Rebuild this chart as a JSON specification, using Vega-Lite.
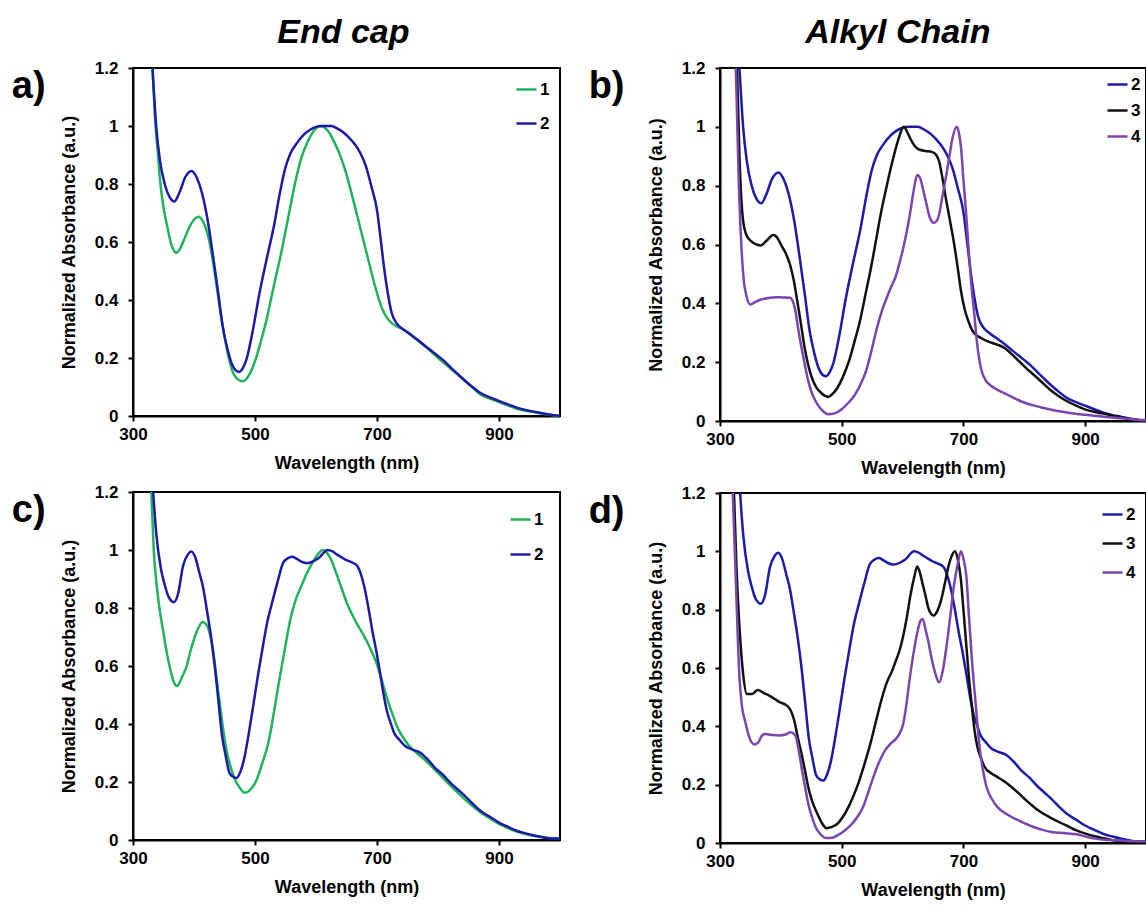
{
  "$schema": "https://vega.github.io/schema/vega-lite/v6.json",
  "background": "white",
  "padding": {"left": 10, "top": 16, "right": 0, "bottom": 0},
  "config": {
    "font": "Liberation Sans",
    "view": {"stroke": "black", "strokeWidth": 2},
    "axis": {"domainColor": "black", "domainWidth": 2, "tickColor": "black", "tickWidth": 2, "tickSize": 5, "labelFont": "Liberation Sans", "labelFontSize": 17, "labelFontWeight": "bold", "labelColor": "black", "titleFont": "Liberation Sans", "titleFontSize": 18, "titleFontWeight": "bold", "titleColor": "black", "grid": false},
    "axisX": {"labelPadding": 5, "titlePadding": 12, "labelFlush": false},
    "axisY": {"labelPadding": 10, "titlePadding": 16},
    "legend": {"title": null, "orient": "top-right", "symbolType": "stroke", "symbolStrokeWidth": 2.5, "symbolSize": 400, "labelFont": "Liberation Sans", "labelFontSize": 17, "labelFontWeight": "bold", "labelColor": "black", "labelOffset": 2, "padding": 0},
    "line": {"strokeWidth": 2.5, "interpolate": "monotone", "clip": true}
  },
  "datasets": {
    "a": [
      {"s":"1","nm":332,"v":1.2},{"s":"1","nm":337,"v":1.0},{"s":"1","nm":341,"v":0.9},{"s":"1","nm":344,"v":0.82},{"s":"1","nm":350,"v":0.72},{"s":"1","nm":356,"v":0.655},{"s":"1","nm":363,"v":0.59},{"s":"1","nm":371,"v":0.563},{"s":"1","nm":378,"v":0.58},{"s":"1","nm":386,"v":0.62},{"s":"1","nm":396,"v":0.665},{"s":"1","nm":407,"v":0.687},{"s":"1","nm":415,"v":0.67},{"s":"1","nm":422,"v":0.63},{"s":"1","nm":429,"v":0.56},{"s":"1","nm":435,"v":0.48},{"s":"1","nm":441,"v":0.39},{"s":"1","nm":447,"v":0.31},{"s":"1","nm":455,"v":0.22},{"s":"1","nm":462,"v":0.16},{"s":"1","nm":470,"v":0.13},{"s":"1","nm":480,"v":0.12},{"s":"1","nm":490,"v":0.14},{"s":"1","nm":501,"v":0.195},{"s":"1","nm":510,"v":0.26},{"s":"1","nm":519,"v":0.333},{"s":"1","nm":531,"v":0.45},{"s":"1","nm":543,"v":0.563},{"s":"1","nm":555,"v":0.69},{"s":"1","nm":567,"v":0.815},{"s":"1","nm":576,"v":0.89},{"s":"1","nm":585,"v":0.94},{"s":"1","nm":596,"v":0.982},{"s":"1","nm":607,"v":1.0},{"s":"1","nm":614,"v":0.995},{"s":"1","nm":622,"v":0.976},{"s":"1","nm":631,"v":0.94},{"s":"1","nm":640,"v":0.896},{"s":"1","nm":649,"v":0.84},{"s":"1","nm":658,"v":0.77},{"s":"1","nm":667,"v":0.695},{"s":"1","nm":676,"v":0.62},{"s":"1","nm":685,"v":0.545},{"s":"1","nm":694,"v":0.47},{"s":"1","nm":702,"v":0.41},{"s":"1","nm":709,"v":0.367},{"s":"1","nm":716,"v":0.34},{"s":"1","nm":724,"v":0.32},{"s":"1","nm":733,"v":0.308},{"s":"1","nm":742,"v":0.3},{"s":"1","nm":750,"v":0.29},{"s":"1","nm":764,"v":0.265},{"s":"1","nm":779,"v":0.24},{"s":"1","nm":794,"v":0.212},{"s":"1","nm":809,"v":0.184},{"s":"1","nm":824,"v":0.158},{"s":"1","nm":839,"v":0.132},{"s":"1","nm":854,"v":0.104},{"s":"1","nm":869,"v":0.075},{"s":"1","nm":885,"v":0.06},{"s":"1","nm":900,"v":0.048},{"s":"1","nm":915,"v":0.036},{"s":"1","nm":929,"v":0.025},{"s":"1","nm":945,"v":0.018},{"s":"1","nm":960,"v":0.012},{"s":"1","nm":980,"v":0.005},{"s":"1","nm":1000,"v":0.0},
      {"s":"2","nm":332,"v":1.2},{"s":"2","nm":338,"v":1.0},{"s":"2","nm":344,"v":0.884},{"s":"2","nm":352,"v":0.8},{"s":"2","nm":360,"v":0.755},{"s":"2","nm":368,"v":0.74},{"s":"2","nm":376,"v":0.77},{"s":"2","nm":386,"v":0.825},{"s":"2","nm":396,"v":0.845},{"s":"2","nm":405,"v":0.82},{"s":"2","nm":413,"v":0.77},{"s":"2","nm":422,"v":0.68},{"s":"2","nm":432,"v":0.54},{"s":"2","nm":440,"v":0.42},{"s":"2","nm":447,"v":0.31},{"s":"2","nm":455,"v":0.23},{"s":"2","nm":462,"v":0.18},{"s":"2","nm":468,"v":0.158},{"s":"2","nm":474,"v":0.152},{"s":"2","nm":480,"v":0.165},{"s":"2","nm":486,"v":0.195},{"s":"2","nm":496,"v":0.29},{"s":"2","nm":507,"v":0.42},{"s":"2","nm":519,"v":0.54},{"s":"2","nm":531,"v":0.655},{"s":"2","nm":540,"v":0.76},{"s":"2","nm":549,"v":0.85},{"s":"2","nm":558,"v":0.905},{"s":"2","nm":567,"v":0.936},{"s":"2","nm":580,"v":0.97},{"s":"2","nm":591,"v":0.988},{"s":"2","nm":600,"v":0.997},{"s":"2","nm":610,"v":1.0},{"s":"2","nm":625,"v":1.0},{"s":"2","nm":636,"v":0.99},{"s":"2","nm":646,"v":0.976},{"s":"2","nm":655,"v":0.958},{"s":"2","nm":664,"v":0.936},{"s":"2","nm":673,"v":0.905},{"s":"2","nm":682,"v":0.86},{"s":"2","nm":691,"v":0.79},{"s":"2","nm":700,"v":0.71},{"s":"2","nm":706,"v":0.61},{"s":"2","nm":712,"v":0.505},{"s":"2","nm":718,"v":0.42},{"s":"2","nm":724,"v":0.356},{"s":"2","nm":732,"v":0.32},{"s":"2","nm":742,"v":0.3},{"s":"2","nm":754,"v":0.282},{"s":"2","nm":766,"v":0.264},{"s":"2","nm":780,"v":0.24},{"s":"2","nm":797,"v":0.212},{"s":"2","nm":810,"v":0.19},{"s":"2","nm":821,"v":0.167},{"s":"2","nm":833,"v":0.143},{"s":"2","nm":845,"v":0.12},{"s":"2","nm":857,"v":0.099},{"s":"2","nm":869,"v":0.08},{"s":"2","nm":885,"v":0.064},{"s":"2","nm":900,"v":0.052},{"s":"2","nm":915,"v":0.04},{"s":"2","nm":929,"v":0.029},{"s":"2","nm":945,"v":0.02},{"s":"2","nm":960,"v":0.014},{"s":"2","nm":975,"v":0.008},{"s":"2","nm":990,"v":0.003},{"s":"2","nm":1000,"v":0.0}
    ],
    "b": [
      {"s":"2","nm":332,"v":1.2},{"s":"2","nm":338,"v":1.0},{"s":"2","nm":344,"v":0.884},{"s":"2","nm":352,"v":0.8},{"s":"2","nm":360,"v":0.755},{"s":"2","nm":368,"v":0.74},{"s":"2","nm":376,"v":0.77},{"s":"2","nm":386,"v":0.825},{"s":"2","nm":396,"v":0.845},{"s":"2","nm":405,"v":0.82},{"s":"2","nm":413,"v":0.77},{"s":"2","nm":422,"v":0.68},{"s":"2","nm":432,"v":0.54},{"s":"2","nm":440,"v":0.42},{"s":"2","nm":447,"v":0.31},{"s":"2","nm":455,"v":0.23},{"s":"2","nm":462,"v":0.18},{"s":"2","nm":468,"v":0.158},{"s":"2","nm":474,"v":0.152},{"s":"2","nm":480,"v":0.165},{"s":"2","nm":486,"v":0.195},{"s":"2","nm":496,"v":0.29},{"s":"2","nm":507,"v":0.42},{"s":"2","nm":519,"v":0.54},{"s":"2","nm":531,"v":0.655},{"s":"2","nm":540,"v":0.76},{"s":"2","nm":549,"v":0.85},{"s":"2","nm":558,"v":0.905},{"s":"2","nm":567,"v":0.936},{"s":"2","nm":580,"v":0.97},{"s":"2","nm":591,"v":0.988},{"s":"2","nm":600,"v":0.997},{"s":"2","nm":610,"v":1.0},{"s":"2","nm":625,"v":1.0},{"s":"2","nm":636,"v":0.99},{"s":"2","nm":646,"v":0.976},{"s":"2","nm":655,"v":0.958},{"s":"2","nm":664,"v":0.936},{"s":"2","nm":673,"v":0.905},{"s":"2","nm":682,"v":0.86},{"s":"2","nm":691,"v":0.79},{"s":"2","nm":700,"v":0.71},{"s":"2","nm":706,"v":0.61},{"s":"2","nm":712,"v":0.505},{"s":"2","nm":718,"v":0.42},{"s":"2","nm":724,"v":0.356},{"s":"2","nm":732,"v":0.32},{"s":"2","nm":742,"v":0.3},{"s":"2","nm":754,"v":0.282},{"s":"2","nm":766,"v":0.264},{"s":"2","nm":780,"v":0.24},{"s":"2","nm":797,"v":0.212},{"s":"2","nm":810,"v":0.19},{"s":"2","nm":821,"v":0.167},{"s":"2","nm":833,"v":0.143},{"s":"2","nm":845,"v":0.12},{"s":"2","nm":857,"v":0.099},{"s":"2","nm":869,"v":0.08},{"s":"2","nm":885,"v":0.064},{"s":"2","nm":900,"v":0.052},{"s":"2","nm":915,"v":0.04},{"s":"2","nm":929,"v":0.029},{"s":"2","nm":945,"v":0.02},{"s":"2","nm":960,"v":0.014},{"s":"2","nm":975,"v":0.008},{"s":"2","nm":990,"v":0.003},{"s":"2","nm":1000,"v":0.0},
      {"s":"3","nm":328,"v":1.2},{"s":"3","nm":332,"v":0.9},{"s":"3","nm":337,"v":0.7},{"s":"3","nm":343,"v":0.634},{"s":"3","nm":352,"v":0.61},{"s":"3","nm":360,"v":0.6},{"s":"3","nm":367,"v":0.597},{"s":"3","nm":375,"v":0.61},{"s":"3","nm":388,"v":0.632},{"s":"3","nm":395,"v":0.62},{"s":"3","nm":400,"v":0.6},{"s":"3","nm":408,"v":0.57},{"s":"3","nm":415,"v":0.532},{"s":"3","nm":421,"v":0.48},{"s":"3","nm":427,"v":0.408},{"s":"3","nm":433,"v":0.33},{"s":"3","nm":439,"v":0.25},{"s":"3","nm":445,"v":0.19},{"s":"3","nm":451,"v":0.147},{"s":"3","nm":458,"v":0.115},{"s":"3","nm":466,"v":0.096},{"s":"3","nm":472,"v":0.086},{"s":"3","nm":478,"v":0.082},{"s":"3","nm":485,"v":0.092},{"s":"3","nm":493,"v":0.113},{"s":"3","nm":502,"v":0.15},{"s":"3","nm":512,"v":0.204},{"s":"3","nm":521,"v":0.27},{"s":"3","nm":530,"v":0.34},{"s":"3","nm":539,"v":0.43},{"s":"3","nm":548,"v":0.52},{"s":"3","nm":556,"v":0.61},{"s":"3","nm":564,"v":0.702},{"s":"3","nm":573,"v":0.79},{"s":"3","nm":582,"v":0.872},{"s":"3","nm":588,"v":0.92},{"s":"3","nm":594,"v":0.963},{"s":"3","nm":602,"v":1.0},{"s":"3","nm":607,"v":0.985},{"s":"3","nm":612,"v":0.963},{"s":"3","nm":620,"v":0.935},{"s":"3","nm":627,"v":0.923},{"s":"3","nm":638,"v":0.918},{"s":"3","nm":648,"v":0.915},{"s":"3","nm":655,"v":0.905},{"s":"3","nm":660,"v":0.883},{"s":"3","nm":666,"v":0.82},{"s":"3","nm":672,"v":0.747},{"s":"3","nm":678,"v":0.68},{"s":"3","nm":684,"v":0.611},{"s":"3","nm":690,"v":0.53},{"s":"3","nm":696,"v":0.442},{"s":"3","nm":702,"v":0.38},{"s":"3","nm":708,"v":0.34},{"s":"3","nm":714,"v":0.31},{"s":"3","nm":720,"v":0.294},{"s":"3","nm":729,"v":0.282},{"s":"3","nm":738,"v":0.272},{"s":"3","nm":752,"v":0.262},{"s":"3","nm":767,"v":0.249},{"s":"3","nm":779,"v":0.228},{"s":"3","nm":791,"v":0.204},{"s":"3","nm":803,"v":0.18},{"s":"3","nm":815,"v":0.158},{"s":"3","nm":830,"v":0.13},{"s":"3","nm":845,"v":0.102},{"s":"3","nm":860,"v":0.08},{"s":"3","nm":875,"v":0.062},{"s":"3","nm":890,"v":0.048},{"s":"3","nm":905,"v":0.036},{"s":"3","nm":920,"v":0.029},{"s":"3","nm":935,"v":0.023},{"s":"3","nm":950,"v":0.016},{"s":"3","nm":965,"v":0.009},{"s":"3","nm":980,"v":0.005},{"s":"3","nm":1000,"v":0.0},
      {"s":"4","nm":326,"v":1.2},{"s":"4","nm":331,"v":0.8},{"s":"4","nm":335,"v":0.6},{"s":"4","nm":339,"v":0.48},{"s":"4","nm":343,"v":0.43},{"s":"4","nm":350,"v":0.396},{"s":"4","nm":358,"v":0.405},{"s":"4","nm":367,"v":0.413},{"s":"4","nm":380,"v":0.418},{"s":"4","nm":391,"v":0.421},{"s":"4","nm":403,"v":0.42},{"s":"4","nm":415,"v":0.419},{"s":"4","nm":420,"v":0.405},{"s":"4","nm":424,"v":0.374},{"s":"4","nm":428,"v":0.32},{"s":"4","nm":433,"v":0.26},{"s":"4","nm":439,"v":0.195},{"s":"4","nm":445,"v":0.136},{"s":"4","nm":451,"v":0.095},{"s":"4","nm":457,"v":0.068},{"s":"4","nm":463,"v":0.048},{"s":"4","nm":469,"v":0.034},{"s":"4","nm":478,"v":0.023},{"s":"4","nm":488,"v":0.026},{"s":"4","nm":500,"v":0.04},{"s":"4","nm":511,"v":0.062},{"s":"4","nm":522,"v":0.09},{"s":"4","nm":531,"v":0.125},{"s":"4","nm":540,"v":0.17},{"s":"4","nm":549,"v":0.24},{"s":"4","nm":558,"v":0.317},{"s":"4","nm":567,"v":0.38},{"s":"4","nm":576,"v":0.43},{"s":"4","nm":582,"v":0.46},{"s":"4","nm":588,"v":0.487},{"s":"4","nm":594,"v":0.53},{"s":"4","nm":600,"v":0.578},{"s":"4","nm":606,"v":0.635},{"s":"4","nm":612,"v":0.702},{"s":"4","nm":618,"v":0.78},{"s":"4","nm":624,"v":0.836},{"s":"4","nm":629,"v":0.825},{"s":"4","nm":633,"v":0.793},{"s":"4","nm":639,"v":0.74},{"s":"4","nm":645,"v":0.69},{"s":"4","nm":651,"v":0.674},{"s":"4","nm":656,"v":0.68},{"s":"4","nm":660,"v":0.702},{"s":"4","nm":666,"v":0.77},{"s":"4","nm":672,"v":0.838},{"s":"4","nm":677,"v":0.9},{"s":"4","nm":681,"v":0.951},{"s":"4","nm":689,"v":1.0},{"s":"4","nm":693,"v":0.975},{"s":"4","nm":696,"v":0.93},{"s":"4","nm":700,"v":0.82},{"s":"4","nm":705,"v":0.69},{"s":"4","nm":709,"v":0.57},{"s":"4","nm":713,"v":0.464},{"s":"4","nm":718,"v":0.36},{"s":"4","nm":722,"v":0.272},{"s":"4","nm":726,"v":0.21},{"s":"4","nm":730,"v":0.17},{"s":"4","nm":736,"v":0.14},{"s":"4","nm":742,"v":0.125},{"s":"4","nm":757,"v":0.105},{"s":"4","nm":772,"v":0.09},{"s":"4","nm":786,"v":0.075},{"s":"4","nm":801,"v":0.062},{"s":"4","nm":815,"v":0.053},{"s":"4","nm":830,"v":0.045},{"s":"4","nm":845,"v":0.038},{"s":"4","nm":860,"v":0.032},{"s":"4","nm":875,"v":0.027},{"s":"4","nm":891,"v":0.023},{"s":"4","nm":905,"v":0.02},{"s":"4","nm":920,"v":0.017},{"s":"4","nm":935,"v":0.014},{"s":"4","nm":950,"v":0.011},{"s":"4","nm":975,"v":0.006},{"s":"4","nm":1000,"v":0.003}
    ],
    "c": [
      {"s":"1","nm":330,"v":1.2},{"s":"1","nm":334,"v":1.0},{"s":"1","nm":339,"v":0.876},{"s":"1","nm":344,"v":0.79},{"s":"1","nm":349,"v":0.726},{"s":"1","nm":355,"v":0.65},{"s":"1","nm":361,"v":0.589},{"s":"1","nm":366,"v":0.55},{"s":"1","nm":372,"v":0.531},{"s":"1","nm":380,"v":0.56},{"s":"1","nm":388,"v":0.6},{"s":"1","nm":394,"v":0.65},{"s":"1","nm":400,"v":0.692},{"s":"1","nm":407,"v":0.73},{"s":"1","nm":414,"v":0.752},{"s":"1","nm":421,"v":0.74},{"s":"1","nm":428,"v":0.692},{"s":"1","nm":434,"v":0.61},{"s":"1","nm":440,"v":0.508},{"s":"1","nm":446,"v":0.41},{"s":"1","nm":452,"v":0.324},{"s":"1","nm":459,"v":0.26},{"s":"1","nm":467,"v":0.209},{"s":"1","nm":475,"v":0.18},{"s":"1","nm":483,"v":0.163},{"s":"1","nm":493,"v":0.175},{"s":"1","nm":503,"v":0.209},{"s":"1","nm":512,"v":0.265},{"s":"1","nm":522,"v":0.336},{"s":"1","nm":531,"v":0.44},{"s":"1","nm":540,"v":0.554},{"s":"1","nm":549,"v":0.66},{"s":"1","nm":558,"v":0.761},{"s":"1","nm":567,"v":0.83},{"s":"1","nm":576,"v":0.876},{"s":"1","nm":585,"v":0.92},{"s":"1","nm":594,"v":0.956},{"s":"1","nm":603,"v":0.985},{"s":"1","nm":611,"v":1.0},{"s":"1","nm":618,"v":0.99},{"s":"1","nm":625,"v":0.966},{"s":"1","nm":634,"v":0.915},{"s":"1","nm":643,"v":0.862},{"s":"1","nm":652,"v":0.81},{"s":"1","nm":661,"v":0.77},{"s":"1","nm":670,"v":0.735},{"s":"1","nm":679,"v":0.703},{"s":"1","nm":689,"v":0.66},{"s":"1","nm":699,"v":0.611},{"s":"1","nm":708,"v":0.55},{"s":"1","nm":717,"v":0.485},{"s":"1","nm":726,"v":0.43},{"s":"1","nm":735,"v":0.382},{"s":"1","nm":744,"v":0.35},{"s":"1","nm":753,"v":0.324},{"s":"1","nm":768,"v":0.295},{"s":"1","nm":783,"v":0.267},{"s":"1","nm":798,"v":0.235},{"s":"1","nm":813,"v":0.203},{"s":"1","nm":828,"v":0.172},{"s":"1","nm":844,"v":0.14},{"s":"1","nm":859,"v":0.113},{"s":"1","nm":874,"v":0.089},{"s":"1","nm":890,"v":0.068},{"s":"1","nm":905,"v":0.05},{"s":"1","nm":920,"v":0.036},{"s":"1","nm":936,"v":0.025},{"s":"1","nm":951,"v":0.017},{"s":"1","nm":966,"v":0.011},{"s":"1","nm":983,"v":0.007},{"s":"1","nm":1000,"v":0.005},
      {"s":"2","nm":333,"v":1.2},{"s":"2","nm":338,"v":1.06},{"s":"2","nm":346,"v":0.933},{"s":"2","nm":352,"v":0.88},{"s":"2","nm":358,"v":0.84},{"s":"2","nm":367,"v":0.82},{"s":"2","nm":374,"v":0.85},{"s":"2","nm":382,"v":0.945},{"s":"2","nm":390,"v":0.985},{"s":"2","nm":396,"v":0.995},{"s":"2","nm":402,"v":0.975},{"s":"2","nm":409,"v":0.92},{"s":"2","nm":415,"v":0.87},{"s":"2","nm":421,"v":0.794},{"s":"2","nm":428,"v":0.7},{"s":"2","nm":434,"v":0.6},{"s":"2","nm":440,"v":0.48},{"s":"2","nm":446,"v":0.359},{"s":"2","nm":452,"v":0.29},{"s":"2","nm":458,"v":0.232},{"s":"2","nm":464,"v":0.218},{"s":"2","nm":470,"v":0.214},{"s":"2","nm":476,"v":0.235},{"s":"2","nm":482,"v":0.278},{"s":"2","nm":490,"v":0.37},{"s":"2","nm":497,"v":0.462},{"s":"2","nm":505,"v":0.57},{"s":"2","nm":513,"v":0.669},{"s":"2","nm":520,"v":0.75},{"s":"2","nm":528,"v":0.818},{"s":"2","nm":537,"v":0.89},{"s":"2","nm":546,"v":0.955},{"s":"2","nm":554,"v":0.972},{"s":"2","nm":561,"v":0.977},{"s":"2","nm":568,"v":0.97},{"s":"2","nm":576,"v":0.96},{"s":"2","nm":584,"v":0.955},{"s":"2","nm":591,"v":0.957},{"s":"2","nm":599,"v":0.965},{"s":"2","nm":607,"v":0.977},{"s":"2","nm":613,"v":0.992},{"s":"2","nm":619,"v":1.0},{"s":"2","nm":627,"v":0.995},{"s":"2","nm":634,"v":0.985},{"s":"2","nm":642,"v":0.975},{"s":"2","nm":649,"v":0.966},{"s":"2","nm":658,"v":0.958},{"s":"2","nm":667,"v":0.947},{"s":"2","nm":673,"v":0.92},{"s":"2","nm":679,"v":0.875},{"s":"2","nm":686,"v":0.8},{"s":"2","nm":692,"v":0.726},{"s":"2","nm":699,"v":0.65},{"s":"2","nm":705,"v":0.577},{"s":"2","nm":711,"v":0.5},{"s":"2","nm":717,"v":0.439},{"s":"2","nm":723,"v":0.4},{"s":"2","nm":728,"v":0.37},{"s":"2","nm":737,"v":0.345},{"s":"2","nm":746,"v":0.324},{"s":"2","nm":758,"v":0.312},{"s":"2","nm":771,"v":0.301},{"s":"2","nm":783,"v":0.278},{"s":"2","nm":795,"v":0.249},{"s":"2","nm":808,"v":0.225},{"s":"2","nm":820,"v":0.198},{"s":"2","nm":832,"v":0.175},{"s":"2","nm":844,"v":0.152},{"s":"2","nm":857,"v":0.125},{"s":"2","nm":870,"v":0.1},{"s":"2","nm":885,"v":0.08},{"s":"2","nm":900,"v":0.06},{"s":"2","nm":915,"v":0.045},{"s":"2","nm":930,"v":0.031},{"s":"2","nm":945,"v":0.022},{"s":"2","nm":961,"v":0.014},{"s":"2","nm":975,"v":0.008},{"s":"2","nm":985,"v":0.005},{"s":"2","nm":1000,"v":0.005}
    ],
    "d": [
      {"s":"2","nm":333,"v":1.2},{"s":"2","nm":338,"v":1.06},{"s":"2","nm":346,"v":0.933},{"s":"2","nm":352,"v":0.88},{"s":"2","nm":358,"v":0.84},{"s":"2","nm":367,"v":0.82},{"s":"2","nm":374,"v":0.85},{"s":"2","nm":382,"v":0.945},{"s":"2","nm":390,"v":0.985},{"s":"2","nm":396,"v":0.995},{"s":"2","nm":402,"v":0.975},{"s":"2","nm":409,"v":0.92},{"s":"2","nm":415,"v":0.87},{"s":"2","nm":421,"v":0.794},{"s":"2","nm":428,"v":0.7},{"s":"2","nm":434,"v":0.6},{"s":"2","nm":440,"v":0.48},{"s":"2","nm":446,"v":0.359},{"s":"2","nm":452,"v":0.29},{"s":"2","nm":458,"v":0.232},{"s":"2","nm":464,"v":0.218},{"s":"2","nm":470,"v":0.214},{"s":"2","nm":476,"v":0.235},{"s":"2","nm":482,"v":0.278},{"s":"2","nm":490,"v":0.37},{"s":"2","nm":497,"v":0.462},{"s":"2","nm":505,"v":0.57},{"s":"2","nm":513,"v":0.669},{"s":"2","nm":520,"v":0.75},{"s":"2","nm":528,"v":0.818},{"s":"2","nm":537,"v":0.89},{"s":"2","nm":546,"v":0.955},{"s":"2","nm":554,"v":0.972},{"s":"2","nm":561,"v":0.977},{"s":"2","nm":568,"v":0.97},{"s":"2","nm":576,"v":0.96},{"s":"2","nm":584,"v":0.955},{"s":"2","nm":591,"v":0.957},{"s":"2","nm":599,"v":0.965},{"s":"2","nm":607,"v":0.977},{"s":"2","nm":613,"v":0.992},{"s":"2","nm":619,"v":1.0},{"s":"2","nm":627,"v":0.995},{"s":"2","nm":634,"v":0.985},{"s":"2","nm":642,"v":0.975},{"s":"2","nm":649,"v":0.966},{"s":"2","nm":658,"v":0.958},{"s":"2","nm":667,"v":0.947},{"s":"2","nm":673,"v":0.92},{"s":"2","nm":679,"v":0.875},{"s":"2","nm":686,"v":0.8},{"s":"2","nm":692,"v":0.726},{"s":"2","nm":699,"v":0.65},{"s":"2","nm":705,"v":0.577},{"s":"2","nm":711,"v":0.5},{"s":"2","nm":717,"v":0.439},{"s":"2","nm":723,"v":0.4},{"s":"2","nm":728,"v":0.37},{"s":"2","nm":737,"v":0.345},{"s":"2","nm":746,"v":0.324},{"s":"2","nm":758,"v":0.312},{"s":"2","nm":771,"v":0.301},{"s":"2","nm":783,"v":0.278},{"s":"2","nm":795,"v":0.249},{"s":"2","nm":808,"v":0.225},{"s":"2","nm":820,"v":0.198},{"s":"2","nm":832,"v":0.175},{"s":"2","nm":844,"v":0.152},{"s":"2","nm":857,"v":0.125},{"s":"2","nm":870,"v":0.1},{"s":"2","nm":885,"v":0.08},{"s":"2","nm":900,"v":0.06},{"s":"2","nm":915,"v":0.045},{"s":"2","nm":930,"v":0.031},{"s":"2","nm":945,"v":0.022},{"s":"2","nm":961,"v":0.014},{"s":"2","nm":975,"v":0.008},{"s":"2","nm":985,"v":0.005},{"s":"2","nm":1000,"v":0.005},
      {"s":"3","nm":323,"v":1.2},{"s":"3","nm":327,"v":0.95},{"s":"3","nm":332,"v":0.74},{"s":"3","nm":338,"v":0.58},{"s":"3","nm":344,"v":0.511},{"s":"3","nm":353,"v":0.511},{"s":"3","nm":362,"v":0.525},{"s":"3","nm":371,"v":0.515},{"s":"3","nm":380,"v":0.506},{"s":"3","nm":389,"v":0.495},{"s":"3","nm":398,"v":0.483},{"s":"3","nm":410,"v":0.471},{"s":"3","nm":416,"v":0.455},{"s":"3","nm":422,"v":0.42},{"s":"3","nm":428,"v":0.36},{"s":"3","nm":434,"v":0.306},{"s":"3","nm":440,"v":0.245},{"s":"3","nm":445,"v":0.192},{"s":"3","nm":452,"v":0.14},{"s":"3","nm":460,"v":0.1},{"s":"3","nm":467,"v":0.07},{"s":"3","nm":475,"v":0.051},{"s":"3","nm":484,"v":0.055},{"s":"3","nm":493,"v":0.066},{"s":"3","nm":502,"v":0.09},{"s":"3","nm":511,"v":0.123},{"s":"3","nm":520,"v":0.165},{"s":"3","nm":529,"v":0.215},{"s":"3","nm":538,"v":0.275},{"s":"3","nm":547,"v":0.34},{"s":"3","nm":556,"v":0.415},{"s":"3","nm":565,"v":0.489},{"s":"3","nm":574,"v":0.55},{"s":"3","nm":583,"v":0.591},{"s":"3","nm":589,"v":0.625},{"s":"3","nm":595,"v":0.66},{"s":"3","nm":601,"v":0.71},{"s":"3","nm":607,"v":0.774},{"s":"3","nm":613,"v":0.85},{"s":"3","nm":619,"v":0.91},{"s":"3","nm":624,"v":0.948},{"s":"3","nm":628,"v":0.93},{"s":"3","nm":633,"v":0.888},{"s":"3","nm":638,"v":0.845},{"s":"3","nm":642,"v":0.808},{"s":"3","nm":647,"v":0.785},{"s":"3","nm":651,"v":0.78},{"s":"3","nm":657,"v":0.795},{"s":"3","nm":663,"v":0.83},{"s":"3","nm":669,"v":0.885},{"s":"3","nm":675,"v":0.945},{"s":"3","nm":680,"v":0.98},{"s":"3","nm":686,"v":1.0},{"s":"3","nm":691,"v":0.97},{"s":"3","nm":696,"v":0.9},{"s":"3","nm":700,"v":0.8},{"s":"3","nm":705,"v":0.671},{"s":"3","nm":709,"v":0.57},{"s":"3","nm":714,"v":0.466},{"s":"3","nm":718,"v":0.39},{"s":"3","nm":723,"v":0.329},{"s":"3","nm":729,"v":0.29},{"s":"3","nm":735,"v":0.26},{"s":"3","nm":745,"v":0.24},{"s":"3","nm":756,"v":0.226},{"s":"3","nm":768,"v":0.21},{"s":"3","nm":779,"v":0.192},{"s":"3","nm":791,"v":0.17},{"s":"3","nm":803,"v":0.146},{"s":"3","nm":815,"v":0.125},{"s":"3","nm":827,"v":0.106},{"s":"3","nm":842,"v":0.088},{"s":"3","nm":857,"v":0.072},{"s":"3","nm":872,"v":0.057},{"s":"3","nm":886,"v":0.043},{"s":"3","nm":901,"v":0.032},{"s":"3","nm":916,"v":0.023},{"s":"3","nm":931,"v":0.016},{"s":"3","nm":946,"v":0.009},{"s":"3","nm":970,"v":0.005},{"s":"3","nm":1000,"v":0.003},
      {"s":"4","nm":321,"v":1.2},{"s":"4","nm":326,"v":0.9},{"s":"4","nm":332,"v":0.568},{"s":"4","nm":336,"v":0.47},{"s":"4","nm":341,"v":0.42},{"s":"4","nm":347,"v":0.37},{"s":"4","nm":352,"v":0.345},{"s":"4","nm":357,"v":0.338},{"s":"4","nm":363,"v":0.345},{"s":"4","nm":368,"v":0.365},{"s":"4","nm":374,"v":0.374},{"s":"4","nm":386,"v":0.37},{"s":"4","nm":398,"v":0.369},{"s":"4","nm":408,"v":0.372},{"s":"4","nm":416,"v":0.38},{"s":"4","nm":421,"v":0.375},{"s":"4","nm":425,"v":0.362},{"s":"4","nm":430,"v":0.31},{"s":"4","nm":434,"v":0.26},{"s":"4","nm":440,"v":0.19},{"s":"4","nm":445,"v":0.135},{"s":"4","nm":451,"v":0.09},{"s":"4","nm":457,"v":0.055},{"s":"4","nm":465,"v":0.03},{"s":"4","nm":475,"v":0.017},{"s":"4","nm":484,"v":0.018},{"s":"4","nm":493,"v":0.026},{"s":"4","nm":505,"v":0.043},{"s":"4","nm":517,"v":0.066},{"s":"4","nm":526,"v":0.09},{"s":"4","nm":535,"v":0.123},{"s":"4","nm":543,"v":0.17},{"s":"4","nm":552,"v":0.226},{"s":"4","nm":561,"v":0.275},{"s":"4","nm":571,"v":0.317},{"s":"4","nm":580,"v":0.34},{"s":"4","nm":589,"v":0.357},{"s":"4","nm":595,"v":0.375},{"s":"4","nm":601,"v":0.408},{"s":"4","nm":606,"v":0.47},{"s":"4","nm":612,"v":0.568},{"s":"4","nm":618,"v":0.65},{"s":"4","nm":624,"v":0.72},{"s":"4","nm":629,"v":0.76},{"s":"4","nm":633,"v":0.768},{"s":"4","nm":638,"v":0.73},{"s":"4","nm":642,"v":0.694},{"s":"4","nm":648,"v":0.63},{"s":"4","nm":654,"v":0.58},{"s":"4","nm":660,"v":0.551},{"s":"4","nm":666,"v":0.59},{"s":"4","nm":672,"v":0.671},{"s":"4","nm":678,"v":0.77},{"s":"4","nm":684,"v":0.877},{"s":"4","nm":690,"v":0.95},{"s":"4","nm":696,"v":1.0},{"s":"4","nm":700,"v":0.975},{"s":"4","nm":705,"v":0.911},{"s":"4","nm":709,"v":0.78},{"s":"4","nm":714,"v":0.626},{"s":"4","nm":720,"v":0.48},{"s":"4","nm":726,"v":0.34},{"s":"4","nm":732,"v":0.25},{"s":"4","nm":738,"v":0.192},{"s":"4","nm":747,"v":0.15},{"s":"4","nm":756,"v":0.123},{"s":"4","nm":770,"v":0.1},{"s":"4","nm":785,"v":0.083},{"s":"4","nm":800,"v":0.068},{"s":"4","nm":815,"v":0.055},{"s":"4","nm":830,"v":0.045},{"s":"4","nm":845,"v":0.038},{"s":"4","nm":865,"v":0.034},{"s":"4","nm":886,"v":0.03},{"s":"4","nm":901,"v":0.022},{"s":"4","nm":916,"v":0.015},{"s":"4","nm":940,"v":0.01},{"s":"4","nm":970,"v":0.007},{"s":"4","nm":1000,"v":0.005}
    ]
  },
  "hconcat": [
    {
      "title": {"text": "End cap", "fontSize": 34, "fontWeight": "bold", "fontStyle": "italic", "color": "black", "anchor": "middle", "offset": 8, "dx": 55},
      "spacing": 9,
      "vconcat": [
        {
          "width": 427, "height": 348,
          "title": {"text": "a)", "orient": "left", "angle": 0, "anchor": "end", "frame": "group", "align": "right", "baseline": "top", "fontSize": 38, "fontWeight": "bold", "color": "black", "offset": -19},
          "data": {"name": "a"},
          "mark": "line",
          "encoding": {
            "x": {"field": "nm", "type": "quantitative", "scale": {"domain": [300, 1000], "nice": false, "zero": false}, "axis": {"values": [300, 500, 700, 900], "title": "Wavelength (nm)"}},
            "y": {"field": "v", "type": "quantitative", "scale": {"domain": [0, 1.2], "nice": false}, "axis": {"values": [0, 0.2, 0.4, 0.6, 0.8, 1, 1.2], "format": "~g", "title": "Normalized Absorbance (a.u.)"}},
            "color": {"field": "s", "type": "nominal", "scale": {"domain": ["1", "2"], "range": ["#22b25c", "#1b1ba4"]}, "legend": {"offset": 10, "rowPadding": 14}}
          }
        },
        {
          "width": 427, "height": 348,
          "title": {"text": "c)", "orient": "left", "angle": 0, "anchor": "end", "frame": "group", "align": "right", "baseline": "top", "fontSize": 38, "fontWeight": "bold", "color": "black", "offset": -19},
          "data": {"name": "c"},
          "mark": "line",
          "encoding": {
            "x": {"field": "nm", "type": "quantitative", "scale": {"domain": [300, 1000], "nice": false, "zero": false}, "axis": {"values": [300, 500, 700, 900], "title": "Wavelength (nm)"}},
            "y": {"field": "v", "type": "quantitative", "scale": {"domain": [0, 1.2], "nice": false}, "axis": {"values": [0, 0.2, 0.4, 0.6, 0.8, 1, 1.2], "format": "~g", "title": "Normalized Absorbance (a.u.)"}},
            "color": {"field": "s", "type": "nominal", "scale": {"domain": ["1", "2"], "range": ["#22b25c", "#1b1ba4"]}, "legend": {"offset": 14, "padding": 2, "rowPadding": 15}}
          }
        }
      ],
      "resolve": {"scale": {"color": "independent"}, "legend": {"color": "independent"}}
    },
    {
      "title": {"text": "Alkyl Chain", "fontSize": 34, "fontWeight": "bold", "fontStyle": "italic", "color": "black", "anchor": "middle", "offset": 8, "dx": 28},
      "spacing": 5,
      "vconcat": [
        {
          "width": 426, "height": 353,
          "title": {"text": "b)", "orient": "left", "angle": 0, "anchor": "end", "frame": "group", "align": "right", "baseline": "top", "fontSize": 38, "fontWeight": "bold", "color": "black", "offset": -13},
          "data": {"name": "b"},
          "mark": "line",
          "encoding": {
            "x": {"field": "nm", "type": "quantitative", "scale": {"domain": [300, 1000], "nice": false, "zero": false}, "axis": {"values": [300, 500, 700, 900], "title": "Wavelength (nm)"}},
            "y": {"field": "v", "type": "quantitative", "scale": {"domain": [0, 1.2], "nice": false}, "axis": {"values": [0, 0.2, 0.4, 0.6, 0.8, 1, 1.2], "format": "~g", "title": "Normalized Absorbance (a.u.)"}},
            "color": {"field": "s", "type": "nominal", "scale": {"domain": ["2", "3", "4"], "range": ["#1b1ba4", "#111111", "#7b45ae"]}, "legend": {"offset": 5, "rowPadding": 6}}
          }
        },
        {
          "width": 426, "height": 350,
          "title": {"text": "d)", "orient": "left", "angle": 0, "anchor": "end", "frame": "group", "align": "right", "baseline": "top", "fontSize": 38, "fontWeight": "bold", "color": "black", "offset": -13},
          "data": {"name": "d"},
          "mark": "line",
          "encoding": {
            "x": {"field": "nm", "type": "quantitative", "scale": {"domain": [300, 1000], "nice": false, "zero": false}, "axis": {"values": [300, 500, 700, 900], "title": "Wavelength (nm)"}},
            "y": {"field": "v", "type": "quantitative", "scale": {"domain": [0, 1.2], "nice": false}, "axis": {"values": [0, 0.2, 0.4, 0.6, 0.8, 1, 1.2], "format": "~g", "title": "Normalized Absorbance (a.u.)"}},
            "color": {"field": "s", "type": "nominal", "scale": {"domain": ["2", "3", "4"], "range": ["#1b1ba4", "#111111", "#7b45ae"]}, "legend": {"offset": 8, "padding": 2, "rowPadding": 9}}
          }
        }
      ],
      "resolve": {"scale": {"color": "independent"}, "legend": {"color": "independent"}}
    }
  ],
  "spacing": 21,
  "resolve": {"scale": {"color": "independent"}, "legend": {"color": "independent"}}
}
